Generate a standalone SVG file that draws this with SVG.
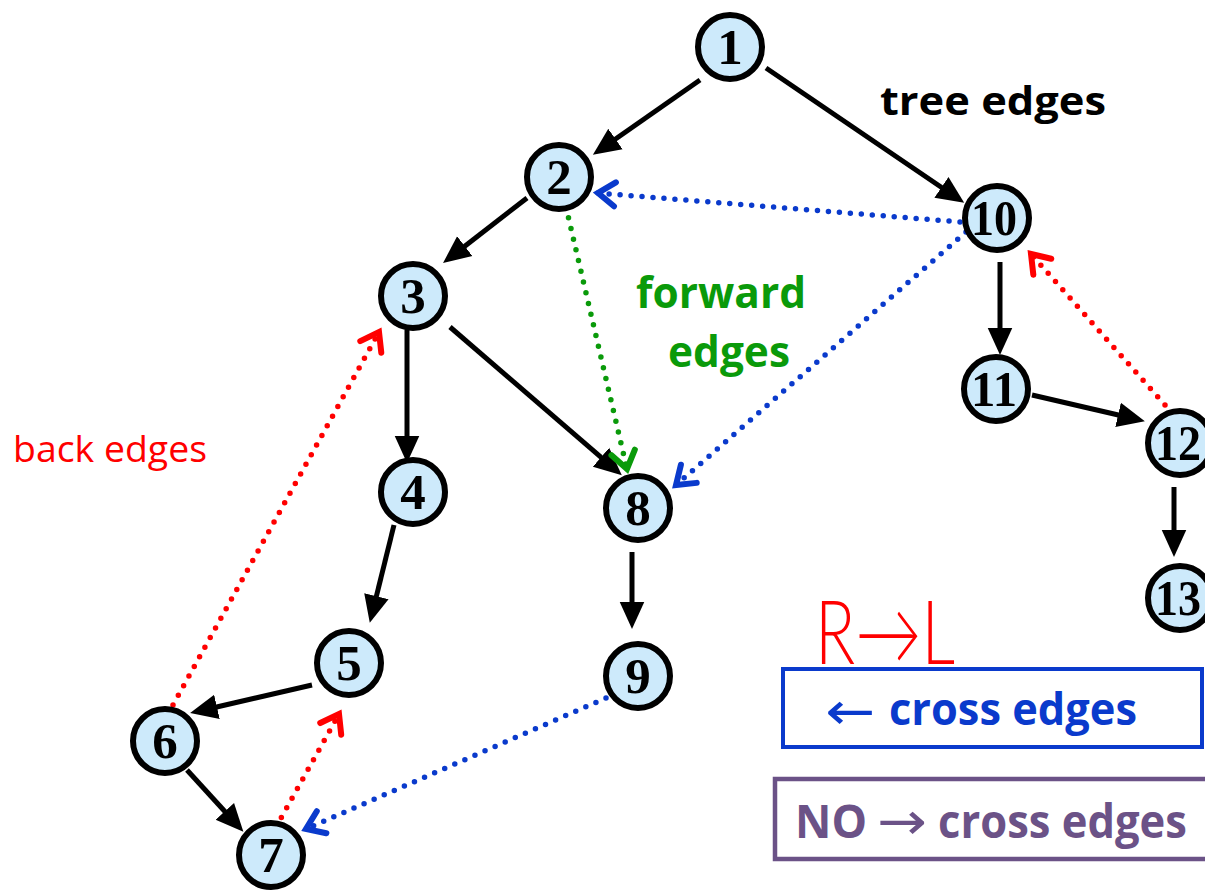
<svg xmlns="http://www.w3.org/2000/svg" width="1205" height="896" viewBox="0 0 1205 896">
  <style>
    .node circle { fill: #cdeafb; stroke: #000; stroke-width: 6; }
    .node text { font-family: "Liberation Serif", "Times New Roman", serif; font-weight: bold; font-size: 51px; text-anchor: middle; fill: #000; }
    .tree { stroke: #000; stroke-width: 5; fill: none; marker-end: url(#solidHead); }
    .dot { stroke-width: 5.5; stroke-linecap: round; stroke-dasharray: 0 11; fill: none; }
    .blue { stroke: #0a3acc; marker-end: url(#blueHead); }
    .red { stroke: #ff0000; marker-end: url(#redHead); }
    .green { stroke: #0a9a0a; marker-end: url(#greenHead); }
    .label { font-family: "Open Sans", Lato, "Liberation Sans", sans-serif; font-weight: bold; }
    .thin { font-family: "DejaVu Sans", sans-serif; font-weight: normal; }
  </style>
  <defs>
    <marker id="solidHead" markerUnits="userSpaceOnUse" markerWidth="30" markerHeight="30" viewBox="0 -12 24 24" refX="2" refY="0" orient="auto">
      <path d="M0,-10 L22,0 L0,10 Z" fill="#000"/>
    </marker>
    <marker id="blueHead" markerUnits="userSpaceOnUse" markerWidth="44" markerHeight="44" viewBox="-22 -22 30 44" refX="0" refY="0" orient="auto">
      <path d="M-17,-12 L0,0 L-17,12" fill="none" stroke="#0a3acc" stroke-width="6" stroke-linecap="round"/>
    </marker>
    <marker id="redHead" markerUnits="userSpaceOnUse" markerWidth="44" markerHeight="44" viewBox="-22 -22 30 44" refX="0" refY="0" orient="auto">
      <path d="M-17,-12 L0,0 L-17,12" fill="none" stroke="#ff0000" stroke-width="6" stroke-linecap="round"/>
    </marker>
    <marker id="greenHead" markerUnits="userSpaceOnUse" markerWidth="44" markerHeight="44" viewBox="-22 -22 30 44" refX="0" refY="0" orient="auto">
      <path d="M-17,-12 L0,0 L-17,12" fill="none" stroke="#0a9a0a" stroke-width="6" stroke-linecap="round"/>
    </marker>
  </defs>

  <rect width="1205" height="896" fill="#fff"/>

  <!-- connectors -->
  <g id="edges">
    <!-- tree edges -->
    <line class="tree" x1="700" y1="80" x2="613.4" y2="140.5"/>
    <line class="tree" x1="766" y1="68" x2="943.5" y2="188.7"/>
    <line class="tree" x1="527" y1="198" x2="462.8" y2="247.7"/>
    <line class="tree" x1="407" y1="330" x2="407" y2="438"/>
    <line class="tree" x1="450" y1="327" x2="602.9" y2="458.9"/>
    <line class="tree" x1="394" y1="525" x2="375.8" y2="598.6"/>
    <line class="tree" x1="312" y1="685" x2="214.5" y2="707.5"/>
    <line class="tree" x1="187" y1="770" x2="226.5" y2="813.2"/>
    <line class="tree" x1="632" y1="552" x2="632" y2="604"/>
    <line class="tree" x1="1000" y1="262" x2="1000" y2="330"/>
    <line class="tree" x1="1032" y1="395" x2="1120.5" y2="415.5"/>
    <line class="tree" x1="1174" y1="487" x2="1174" y2="532"/>
    <!-- cross edges -->
    <line class="dot blue" x1="960" y1="222" x2="598" y2="193"/>
    <line class="dot blue" x1="966" y1="232" x2="676" y2="485"/>
    <line class="dot blue" x1="606" y1="698" x2="306" y2="829"/>
    <!-- forward edge -->
    <line class="dot green" x1="566" y1="207" x2="627" y2="469"/>
    <!-- back edges -->
    <line class="dot red" x1="173" y1="705" x2="379" y2="332"/>
    <line class="dot red" x1="276" y1="827" x2="339" y2="714"/>
    <line class="dot red" x1="1165" y1="405" x2="1031" y2="254"/>
  </g>

  <!-- vertices -->
  <g id="n1" class="node"><circle cx="730" cy="47" r="32"/><text x="730" y="64">1</text></g>
  <g id="n2" class="node"><circle cx="559" cy="177" r="32"/><text x="559" y="194">2</text></g>
  <g id="n3" class="node"><circle cx="413" cy="296" r="32"/><text x="413" y="313">3</text></g>
  <g id="n4" class="node"><circle cx="413" cy="492" r="32"/><text x="413" y="509">4</text></g>
  <g id="n5" class="node"><circle cx="349" cy="663" r="32"/><text x="349" y="680">5</text></g>
  <g id="n6" class="node"><circle cx="165" cy="741" r="32"/><text x="165" y="758">6</text></g>
  <g id="n7" class="node"><circle cx="271" cy="855" r="32"/><text x="271" y="872">7</text></g>
  <g id="n8" class="node"><circle cx="638" cy="508" r="32"/><text x="638" y="525">8</text></g>
  <g id="n9" class="node"><circle cx="638" cy="676" r="32"/><text x="638" y="693">9</text></g>
  <g id="n10" class="node"><circle cx="997" cy="218" r="32"/><text x="994" y="235" textLength="46" lengthAdjust="spacingAndGlyphs">10</text></g>
  <g id="n11" class="node"><circle cx="996" cy="389" r="32"/><text x="994" y="406" textLength="46" lengthAdjust="spacingAndGlyphs">11</text></g>
  <g id="n12" class="node"><circle cx="1180" cy="443" r="32"/><text x="1178" y="460" textLength="46" lengthAdjust="spacingAndGlyphs">12</text></g>
  <g id="n13" class="node"><circle cx="1180" cy="598" r="32"/><text x="1178" y="615" textLength="46" lengthAdjust="spacingAndGlyphs">13</text></g>

  <!-- edge-type labels -->
  <text class="label" x="880" y="115" font-size="40" fill="#000" textLength="226" lengthAdjust="spacingAndGlyphs">tree edges</text>
  <text class="label" x="636" y="308" font-size="43" fill="#0a9a0a" textLength="170" lengthAdjust="spacingAndGlyphs">forward</text>
  <text class="label" x="668" y="367" font-size="43" fill="#0a9a0a" textLength="122" lengthAdjust="spacingAndGlyphs">edges</text>
  <text x="13" y="462" font-family="'Open Sans', Lato, 'Liberation Sans', sans-serif" font-size="37" fill="#ff0000" textLength="194" lengthAdjust="spacingAndGlyphs">back edges</text>

  <!-- handwritten note -->
  <text x="815" y="664" font-family="Lato, 'Open Sans', 'Liberation Sans', sans-serif" font-weight="300" font-size="88" fill="#ff0000" textLength="140" lengthAdjust="spacingAndGlyphs">R→L</text>

  <!-- legend boxes -->
  <rect x="783" y="669" width="419" height="78" fill="none" stroke="#0a3acc" stroke-width="4"/>
  <text class="thin" x="825" y="729" font-size="52" fill="#0a3acc" textLength="50" lengthAdjust="spacingAndGlyphs">←</text>
  <text class="label" x="889" y="725" font-size="44" fill="#0a3acc" textLength="248" lengthAdjust="spacingAndGlyphs">cross edges</text>
  <rect x="775" y="779" width="436" height="80" fill="none" stroke="#6b5287" stroke-width="4.5"/>
  <text class="label" x="795" y="838" font-size="46" fill="#6b5287" textLength="72" lengthAdjust="spacingAndGlyphs">NO</text>
  <text class="thin" x="877" y="839" font-size="52" fill="#6b5287" textLength="50" lengthAdjust="spacingAndGlyphs">→</text>
  <text class="label" x="938" y="838" font-size="46" fill="#6b5287" textLength="249" lengthAdjust="spacingAndGlyphs">cross edges</text>
</svg>
